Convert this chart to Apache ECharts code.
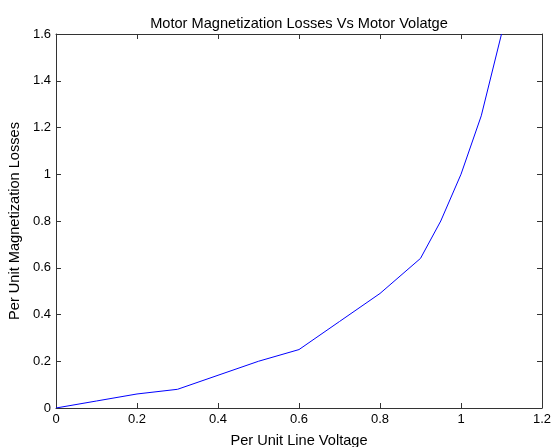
<!DOCTYPE html>
<html><head><meta charset="utf-8">
<script src="https://cdn.jsdelivr.net/npm/echarts@6/dist/echarts.min.js"></script>
<style>html,body{margin:0;padding:0;background:#fff}#c{width:551px;height:447px}</style>
</head><body><div id="c"></div>
<script>
var voltage = [0, 0.1, 0.2, 0.3, 0.4, 0.5, 0.6, 0.7, 0.8, 0.9, 0.95, 1.0, 1.05, 1.1];
var losses  = [0, 0.03, 0.06, 0.08, 0.14, 0.2, 0.25, 0.37, 0.49, 0.64, 0.8, 1.0, 1.25, 1.6];
var titleText = 'Motor Magnetization Losses Vs Motor Volatge';
var xName = 'Per Unit Line Voltage';
var yName = 'Per Unit Magnetization Losses';

var pts = voltage.map(function(v,i){return [v, losses[i]];});
var font = 'Liberation Sans, Arial, sans-serif';
var axCol = '#333';
function boxAxis(extra){
  var base = {type:'value', axisLine:{show:true, onZero:false, lineStyle:{color:axCol}},
    axisTick:{show:true, inside:true, length:5, lineStyle:{color:axCol}},
    splitLine:{show:false}};
  return Object.assign(base, extra);
}
var chart = echarts.init(document.getElementById('c'), null, {renderer:'canvas'});
chart.setOption({
  animation:false,
  backgroundColor:'#fff',
  title:{text:titleText, left:294, top:11, textAlign:'center',
    textStyle:{fontFamily:font, fontSize:14.6, fontWeight:'normal', color:'#000'}},
  grid:{left:56, right:9, top:34, bottom:39, containLabel:false, outerBoundsMode:'none'},
  xAxis:[boxAxis({min:0, max:1.2, interval:0.2, position:'bottom',
    name:xName, nameLocation:'middle', nameGap:25,
    nameTextStyle:{fontFamily:font, fontSize:14.6, color:'#000'},
    axisLabel:{fontFamily:font, fontSize:13, color:'#000', margin:5}}),
   boxAxis({min:0, max:1.2, interval:0.2, position:'top', axisLabel:{show:false}})],
  yAxis:[boxAxis({min:0, max:1.6, interval:0.2, position:'left',
    name:yName, nameLocation:'middle', nameGap:34, nameRotate:90,
    nameTextStyle:{fontFamily:font, fontSize:14.6, color:'#000'},
    axisLabel:{fontFamily:font, fontSize:13, color:'#000', margin:5}}),
   boxAxis({min:0, max:1.6, interval:0.2, position:'right', axisLabel:{show:false}})],
  series:[{type:'line', data:pts, xAxisIndex:0, yAxisIndex:0,
    showSymbol:false, clip:true,
    lineStyle:{color:'#0000ff', width:1}}]
});
</script></body></html>
